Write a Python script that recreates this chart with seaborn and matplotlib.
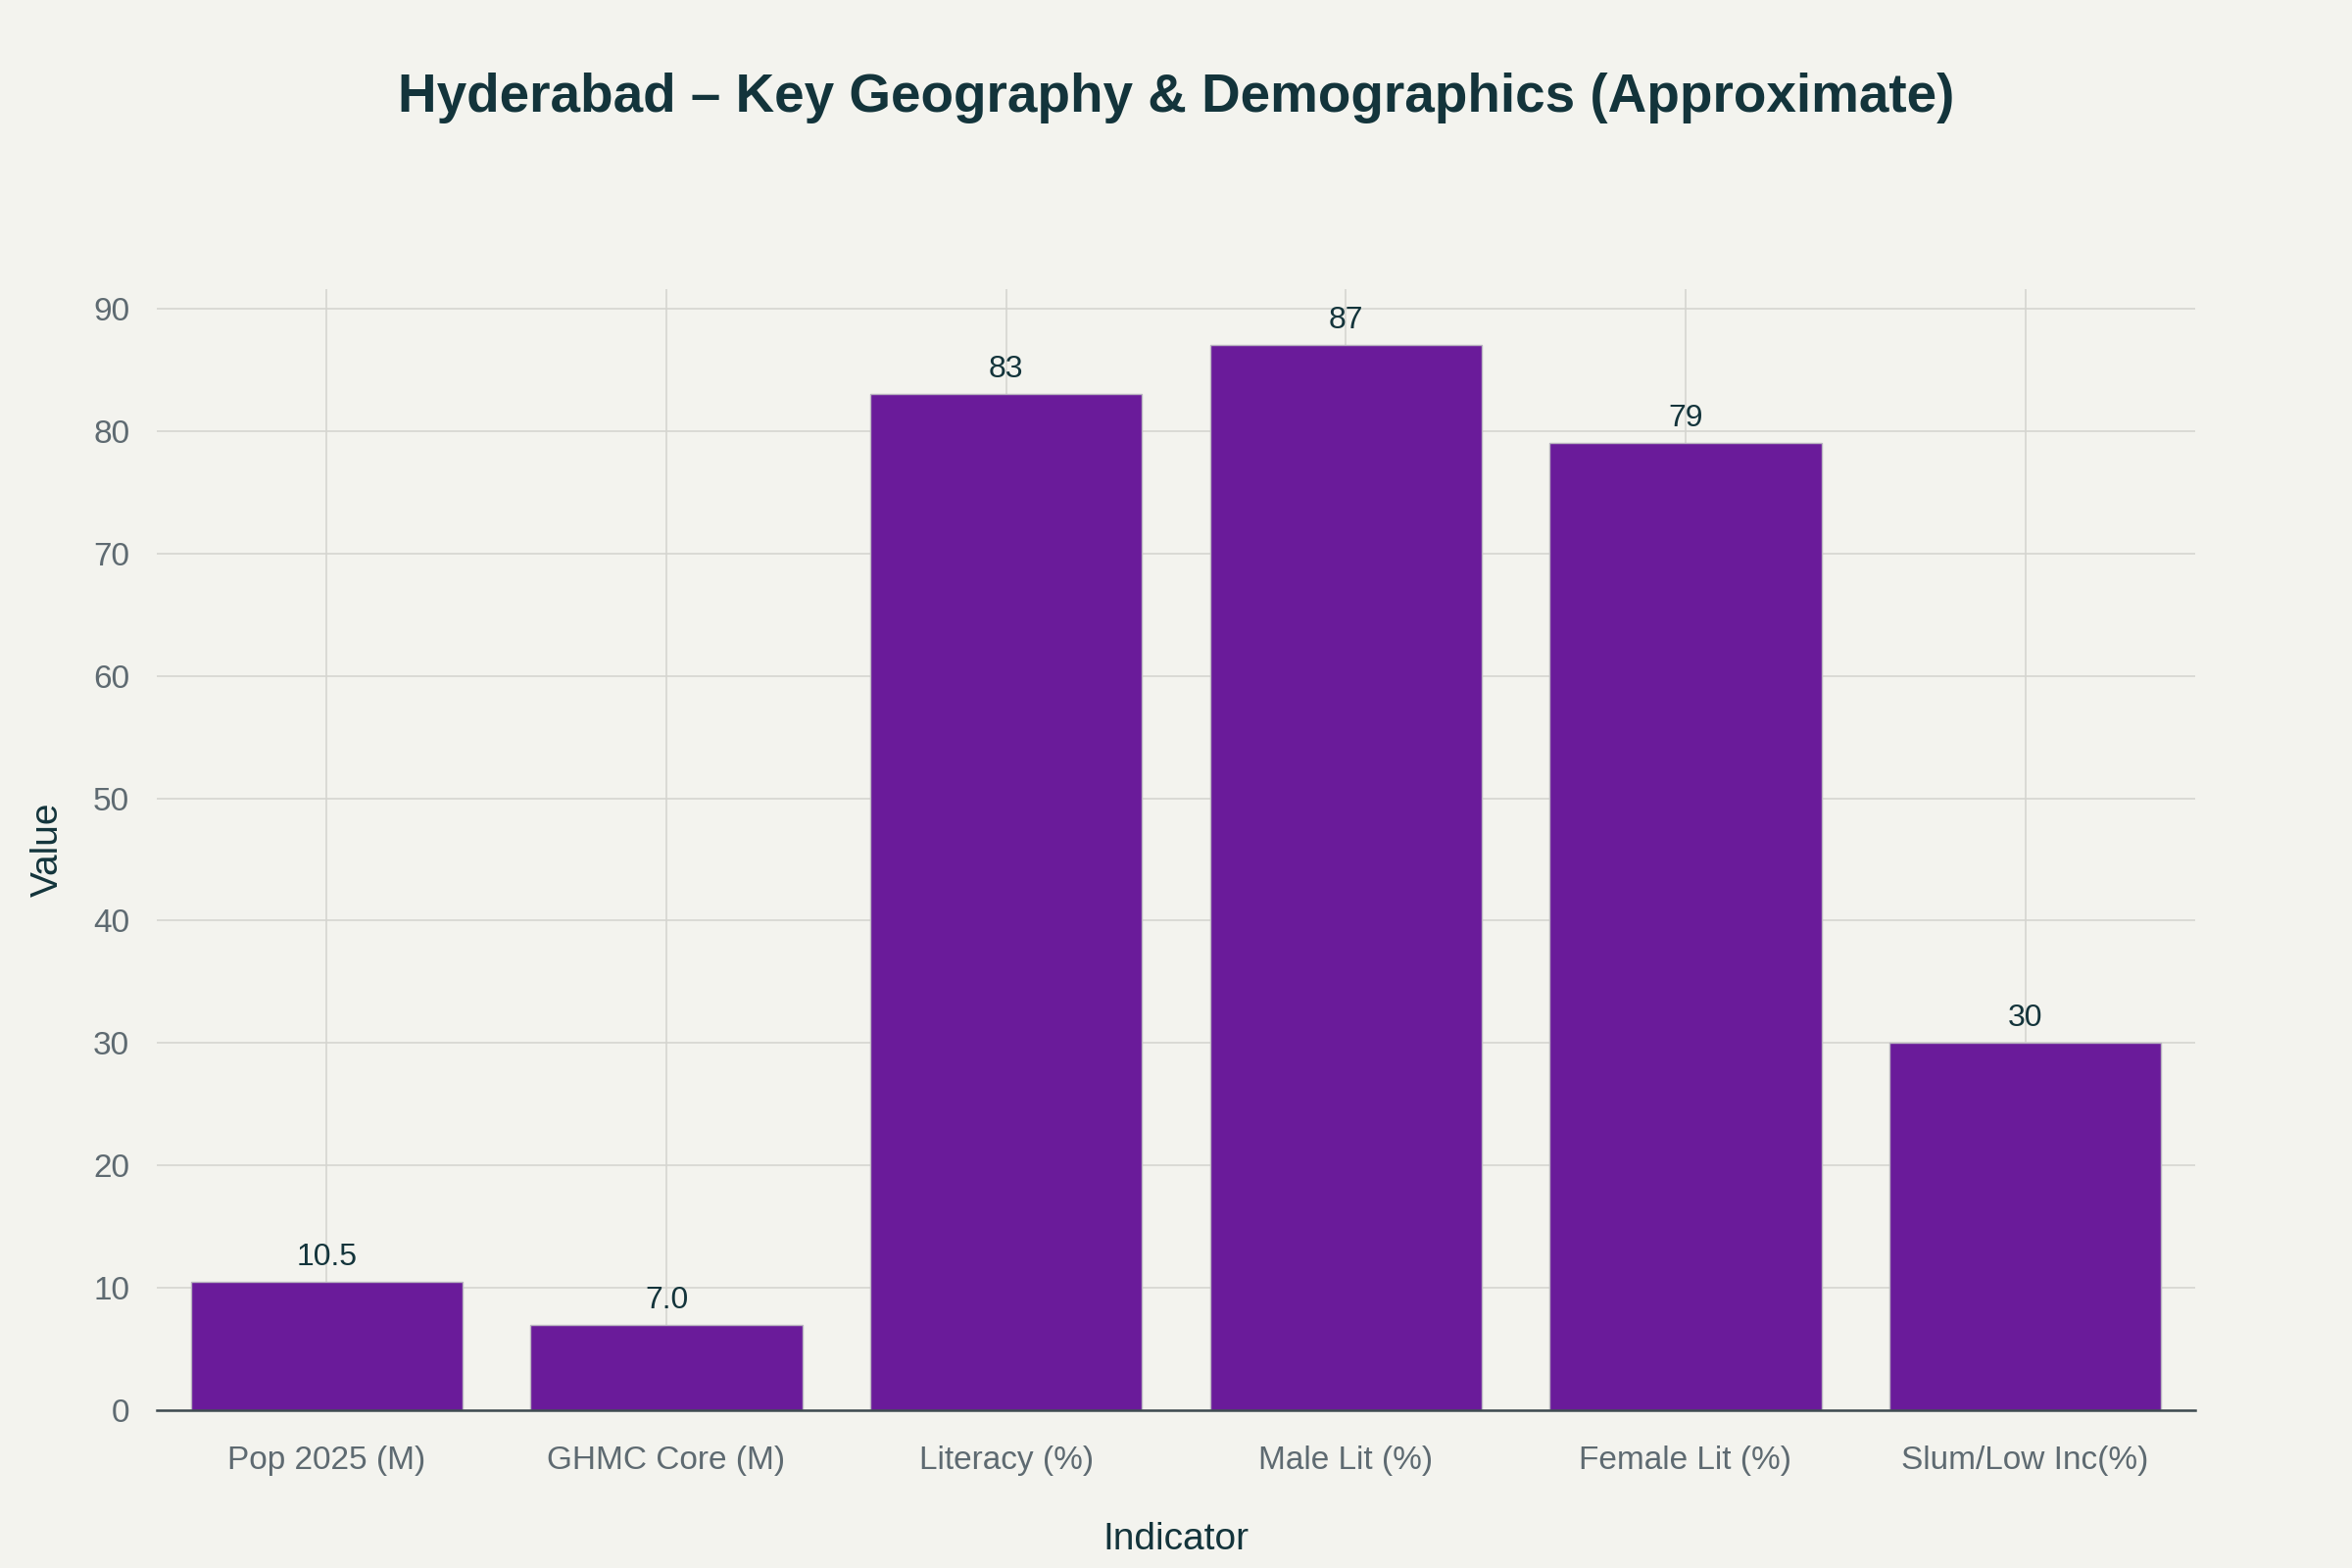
import numpy as np
import pandas as pd
import matplotlib
matplotlib.use("Agg")
import matplotlib.pyplot as plt
import seaborn as sns

# data
indicators = ["Pop 2025 (M)", "GHMC Core (M)", "Literacy (%)", "Male Lit (%)",
              "Female Lit (%)", "Slum/Low Inc(%)"]
values = [10.5, 7.0, 83, 87, 79, 30]
value_labels = ["10.5", "7.0", "83", "87", "79", "30"]
y_ticks = [0, 10, 20, 30, 40, 50, 60, 70, 80, 90]

BG = "#F3F3EE"
BAR = "#6A1B9A"
TITLE_C = "#13343B"
TICK_C = "#5E6A71"
GRID_C = "#D5D5D0"

sns.set_theme(style="white")
plt.rcParams["font.family"] = ["Liberation Sans", "DejaVu Sans"]

df = pd.DataFrame({"Indicator": indicators, "Value": values})

fig = plt.figure(figsize=(24, 16), dpi=100, facecolor=BG)
ax = fig.add_axes([160 / 2400, 1 - 1439 / 1600, (2240 - 160) / 2400, (1439 - 295) / 1600])
ax.set_facecolor(BG)

sns.barplot(data=df, x="Indicator", y="Value", color=BAR, saturation=1, width=0.8,
            edgecolor="#B9B4C0", linewidth=1.0, ax=ax, zorder=3)

ax.set_ylim(0, 91.6)
ax.set_xlim(-0.5, 5.5)
ax.set_yticks(y_ticks)
ax.grid(True, color=GRID_C, linewidth=1.2, zorder=0)
ax.set_axisbelow(True)

for i, (v, lab) in enumerate(zip(values, value_labels)):
    ax.text(i, v + 0.8, lab, ha="center", va="bottom", fontsize=23, color=TITLE_C, zorder=4)

for s in ["top", "right", "left"]:
    ax.spines[s].set_visible(False)
ax.spines["bottom"].set_color("#3D4A4F")
ax.spines["bottom"].set_linewidth(1.8)
ax.spines["bottom"].set_zorder(5)

ax.tick_params(axis="x", colors=GRID_C, length=12, width=1.2, pad=14, labelsize=24, labelcolor=TICK_C)
ax.tick_params(axis="y", colors=GRID_C, length=12, width=1.2, pad=8, labelsize=24, labelcolor=TICK_C)

ax.set_xlabel("Indicator", fontsize=28, color=TITLE_C, labelpad=34)
ax.set_ylabel("Value", fontsize=28, color=TITLE_C, labelpad=20)

fig.text(0.5, 0.9375, "Hyderabad – Key Geography & Demographics (Approximate)",
         ha="center", va="center", fontsize=39.5, fontweight="bold", color=TITLE_C)

fig.savefig("out.png", dpi=100, facecolor=BG)
